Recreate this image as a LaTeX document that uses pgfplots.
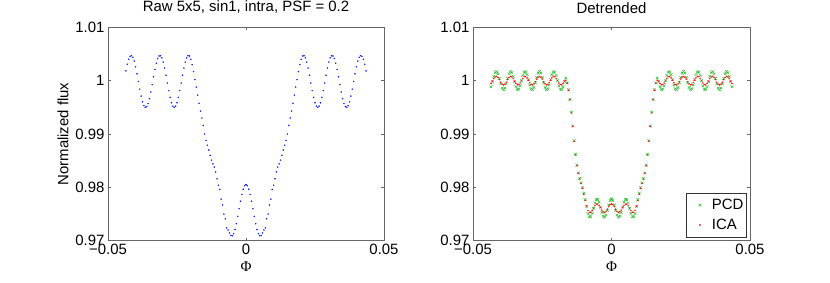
\documentclass[border=0pt]{standalone}
\usepackage{fontspec}
\setmainfont{Liberation Sans}
\newfontfamily\serifgr{Liberation Serif}
\usepackage{pgfplots}
\usepackage{pgfplotstable}
\pgfplotsset{compat=1.18}
\definecolor{bluedot}{RGB}{20,40,255}
\definecolor{reddot}{RGB}{255,20,20}
\definecolor{greenx}{RGB}{50,190,50}
\newcommand\ff{\fontsize{15}{18}\selectfont}
% half of the (symmetric) light curves, x <= 0
\pgfplotstableread{
x raw pcd ica
-0.0435 1.00183 0.99887 0.99947
-0.0430 1.00307 0.99980 0.99990
-0.0425 1.00400 1.00079 1.00037
-0.0420 1.00456 1.00150 1.00071
-0.0415 1.00469 1.00169 1.00079
-0.0410 1.00438 1.00127 1.00060
-0.0405 1.00367 1.00041 1.00019
-0.0400 1.00260 0.99940 0.99972
-0.0395 1.00129 0.99860 0.99934
-0.0390 0.99985 0.99830 0.99920
-0.0385 0.99841 0.99860 0.99934
-0.0380 0.99710 0.99940 0.99972
-0.0375 0.99603 1.00041 1.00019
-0.0370 0.99532 1.00127 1.00060
-0.0365 0.99501 1.00169 1.00079
-0.0360 0.99514 1.00150 1.00071
-0.0355 0.99570 1.00079 1.00037
-0.0350 0.99663 0.99980 0.99990
-0.0345 0.99786 0.99887 0.99947
-0.0340 0.99927 0.99835 0.99922
-0.0335 1.00073 0.99841 0.99925
-0.0330 1.00210 0.99903 0.99955
-0.0325 1.00328 1.00000 1.00000
-0.0320 1.00414 1.00097 1.00045
-0.0315 1.00462 1.00159 1.00075
-0.0310 1.00467 1.00165 1.00078
-0.0305 1.00427 1.00113 1.00053
-0.0300 1.00348 1.00020 1.00010
-0.0295 1.00236 0.99921 0.99963
-0.0290 1.00101 0.99850 0.99929
-0.0285 0.99955 0.99831 0.99921
-0.0280 0.99813 0.99873 0.99940
-0.0275 0.99686 0.99959 0.99981
-0.0270 0.99586 1.00060 1.00028
-0.0265 0.99522 1.00140 1.00066
-0.0260 0.99500 1.00170 1.00080
-0.0255 0.99522 1.00140 1.00066
-0.0250 0.99586 1.00060 1.00028
-0.0245 0.99686 0.99959 0.99981
-0.0240 0.99813 0.99873 0.99940
-0.0235 0.99955 0.99831 0.99921
-0.0230 1.00101 0.99850 0.99929
-0.0225 1.00236 0.99921 0.99963
-0.0220 1.00348 1.00020 1.00010
-0.0215 1.00427 1.00113 1.00053
-0.0210 1.00467 1.00165 1.00078
-0.0205 1.00462 1.00159 1.00075
-0.0200 1.00400 1.00097 1.00045
-0.0195 1.00300 1.00000 1.00000
-0.0190 1.00170 0.99903 0.99955
-0.0185 1.00020 0.99841 0.99925
-0.0180 0.99880 0.99835 0.99922
-0.0175 0.99730 0.99887 0.99947
-0.0170 0.99575 0.99980 0.99990
-0.0165 0.99430 1.00049 1.00007
-0.0160 0.99300 0.99960 0.99951
-0.0155 0.99160 0.99830 0.99819
-0.0150 0.99000 0.99650 0.99640
-0.0145 0.98880 0.99410 0.99399
-0.0140 0.98790 0.99150 0.99142
-0.0135 0.98700 0.98875 0.98864
-0.0130 0.98600 0.98620 0.98610
-0.0125 0.98510 0.98415 0.98404
-0.0120 0.98440 0.98270 0.98262
-0.0115 0.98380 0.98170 0.98159
-0.0110 0.98290 0.98085 0.98070
-0.0105 0.98160 0.97995 0.97979
-0.0100 0.98040 0.97890 0.97871
-0.0095 0.97960 0.97770 0.97757
-0.0090 0.97780 0.97640 0.97650
-0.0085 0.97670 0.97507 0.97567
-0.0080 0.97500 0.97445 0.97532
-0.0075 0.97410 0.97451 0.97535
-0.0070 0.97240 0.97513 0.97565
-0.0065 0.97200 0.97610 0.97610
-0.0060 0.97145 0.97707 0.97655
-0.0055 0.97100 0.97769 0.97685
-0.0050 0.97093 0.97775 0.97688
-0.0045 0.97132 0.97723 0.97663
-0.0040 0.97210 0.97630 0.97620
-0.0035 0.97320 0.97531 0.97573
-0.0030 0.97455 0.97460 0.97539
-0.0025 0.97600 0.97441 0.97531
-0.0020 0.97740 0.97483 0.97550
-0.0015 0.97866 0.97569 0.97591
-0.0010 0.97965 0.97670 0.97638
-0.0005 0.98030 0.97750 0.97676
0.0000 0.98050 0.97780 0.97690
}\halfdata
\pgfplotsset{
  myax/.style={
    scale only axis,
    height=213.4bp,
    xmin=-0.05, xmax=0.05, ymin=0.97, ymax=1.01,
    scaled x ticks=false, scaled y ticks=false,
    xtick={-0.05,0,0.05}, xticklabels={−0.05,0,0.05},
    ytick={0.97,0.98,0.99,1,1.01}, yticklabels={0.97,0.98,0.99,1,1.01},
    tick align=inside, tick pos=both, major tick length=3bp,
    axis line style={black!60, line width=0.6bp},
    every tick/.style={black!60, line width=0.6bp},
    tick label style={font=\ff},
    label style={font=\ff},
    title style={font=\ff, yshift=4bp},
    xlabel={\serifgr Φ},
    clip=false,
  }
}
\begin{document}
\begin{tikzpicture}
\useasboundingbox (0,0) rectangle (830bp,283bp);
\begin{axis}[myax, at={(108bp,42.3bp)}, anchor=south west, width=276bp,
  title={Raw 5x5, sin1, intra, PSF = 0.2}, ylabel={Normalized flux}]
\addplot[only marks, mark=*, mark size=0.55bp, color=bluedot, mark options={draw=none, fill=bluedot}] table[x=x, y=raw]{\halfdata};
\addplot[only marks, mark=*, mark size=0.55bp, color=bluedot, mark options={draw=none, fill=bluedot}] table[x expr=-\thisrow{x}, y=raw]{\halfdata};
\end{axis}
\begin{axis}[myax, at={(473bp,42.3bp)}, anchor=south west, width=277bp,
  title={Detrended},
  legend image code/.code={\path[draw=none,fill=none] (-11bp,0bp) (2bp,0bp); \draw[#1, only marks] plot coordinates {(0bp,0bp)};},
  legend style={at={(1,0)}, anchor=south east, xshift=-3.3bp, yshift=3.4bp,
    draw=black!80, line width=0.6bp, font=\ff, inner xsep=3bp, inner ysep=2bp,
    nodes={inner xsep=0bp, inner ysep=4bp}, row sep=0bp, column sep=10bp},
  legend cell align=left]
\addplot[only marks, mark=x, mark size=1.9bp, color=greenx, line width=0.5bp] table[x=x, y=pcd]{\halfdata};
\addlegendentry{PCD}
\addplot[only marks, mark=x, mark size=1.9bp, color=greenx, line width=0.5bp, forget plot] table[x expr=-\thisrow{x}, y=pcd]{\halfdata};
\addplot[only marks, mark=*, mark size=0.55bp, color=reddot, mark options={draw=none, fill=reddot}] table[x=x, y=ica]{\halfdata};
\addlegendentry{ICA}
\addplot[only marks, mark=*, mark size=0.55bp, color=reddot, mark options={draw=none, fill=reddot}, forget plot] table[x expr=-\thisrow{x}, y=ica]{\halfdata};
\end{axis}
\end{tikzpicture}
\end{document}
